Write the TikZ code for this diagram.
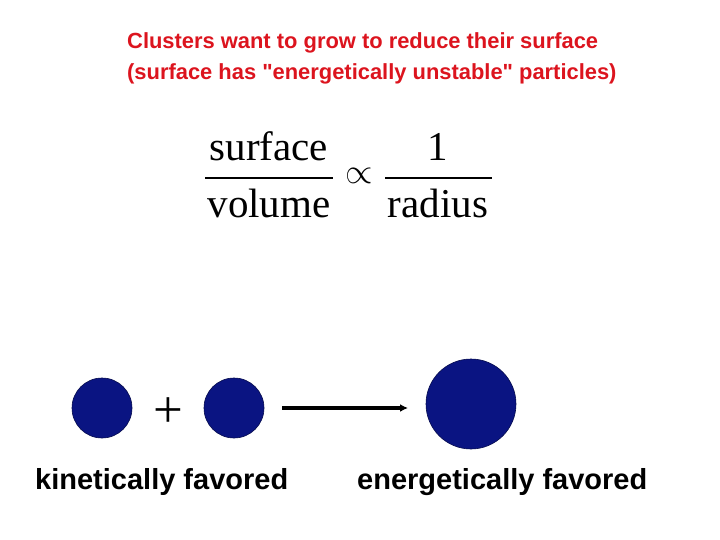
\documentclass[tikz,border=0pt]{standalone}
\usepackage{fontspec}
\setmainfont{Liberation Serif}
\setsansfont{Liberation Sans}
\usetikzlibrary{arrows.meta}
\definecolor{titlered}{RGB}{220,20,30}
\definecolor{ballblue}{RGB}{10,20,130}
\begin{document}
\begin{tikzpicture}[x=1pt,y=-1pt,
  ball/.style={circle,fill=ballblue,draw=ballblue!60!black,line width=0.6pt,inner sep=0pt},
  lbl/.style={font=\sffamily\bfseries\fontsize{29}{32}\selectfont,inner sep=0pt,anchor=base west},
  fr/.style={font=\fontsize{41}{41}\selectfont,inner sep=0pt,anchor=base},
  bar/.style={line width=1.6pt}]
\useasboundingbox (0,0) rectangle (720,540);
\node[anchor=north west,inner sep=0pt,align=left,text=titlered,
  font=\sffamily\bfseries\fontsize{21.9}{31}\selectfont] (title) at (127,32)
  {Clusters want to grow to reduce their surface\\(surface has \textquotedbl energetically unstable\textquotedbl{} particles)};
\node[fr] (num1) at (269,161) {surface};
\node[fr] (den1) at (269,218) {volume};
\coordinate (f1l) at (205,178);
\coordinate (f1r) at (333,178);
\draw[bar] (f1l) -- (f1r);
\node[inner sep=0pt,font=\fontsize{20}{20}\selectfont,scale=1.7] (prop) at (359,176) {$\propto$};
\node[fr] (num2) at (438,161) {1};
\node[fr] (den2) at (438,218) {radius};
\coordinate (f2l) at (385,178);
\coordinate (f2r) at (492,178);
\draw[bar] (f2l) -- (f2r);
\node[ball,minimum size=60pt] (b1) at (102,408) {};
\node[ball,minimum size=60pt] (b2) at (234,408) {};
\node[inner sep=0pt,font=\fontsize{24}{24}\selectfont,scale=2.2] (plus) at (168,413) {+};
\node[ball,minimum size=90pt] (b3) at (471,404) {};
\coordinate (a1) at (282,408);
\coordinate (a2) at (408,408);
\draw[line width=3.2pt,-{Latex[length=8pt,width=8pt]}] (a1) -- (a2);
\node[lbl] (k) at (35,489) {kinetically favored};
\node[lbl] (e) at (357,489) {energetically favored};
\end{tikzpicture}
\end{document}
